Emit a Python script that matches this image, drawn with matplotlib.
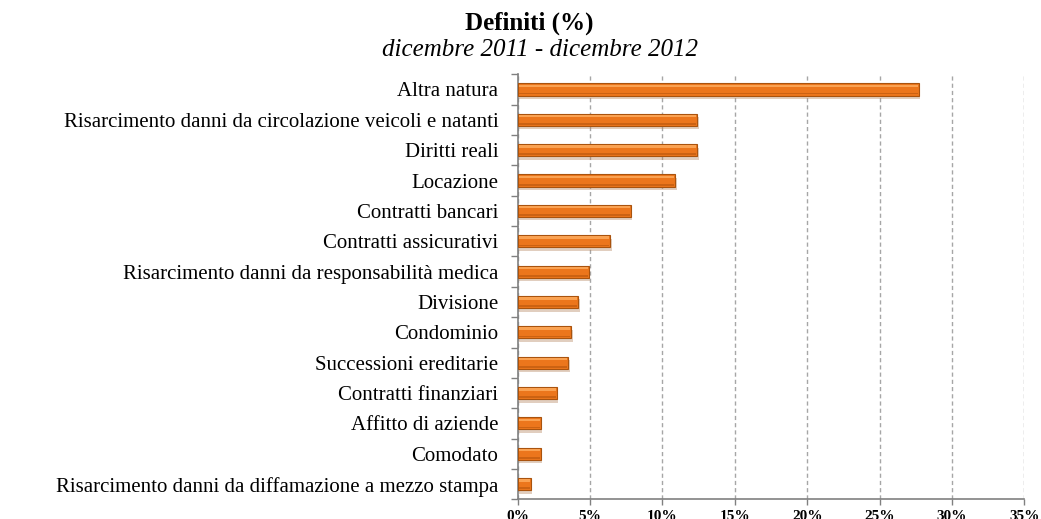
import matplotlib
matplotlib.use("Agg")
import matplotlib.pyplot as plt
import matplotlib.patheffects as pe

# Percent of closed proceedings by subject matter
categories = [
    "Altra natura",
    "Risarcimento danni da circolazione veicoli e natanti",
    "Diritti reali",
    "Locazione",
    "Contratti bancari",
    "Contratti assicurativi",
    "Risarcimento danni da responsabilità medica",
    "Divisione",
    "Condominio",
    "Successioni ereditarie",
    "Contratti finanziari",
    "Affitto di aziende",
    "Comodato",
    "Risarcimento danni da diffamazione a mezzo stampa",
]
values = [27.7, 12.4, 12.4, 10.9, 7.8, 6.4, 4.9, 4.2, 3.7, 3.5, 2.7, 1.6, 1.6, 0.9]

x_ticks = [0, 5, 10, 15, 20, 25, 30, 35]
x_tick_labels = [f"{t}%" for t in x_ticks]

title = "Definiti (%)"
subtitle = "dicembre 2011 - dicembre 2012"

plt.rcParams["font.family"] = ["Liberation Serif", "DejaVu Serif"]

W, H = 1041, 519
fig = plt.figure(figsize=(W / 100, H / 100), dpi=100)
ax = fig.add_axes([517.7 / W, 1 - 499.3 / H, (1024.3 - 517.7) / W, (499.3 - 74.3) / H])

pos = list(range(len(categories)))
bar_h = 0.40

# main bar body with a soft drop shadow
bars = ax.barh(pos, values, height=bar_h, color="#EC761C",
               edgecolor="#A9530E", linewidth=0.8, zorder=3)
for b in bars:
    b.set_path_effects([
        pe.SimplePatchShadow(offset=(1, -2.5), shadow_rgbFace="#B58560", alpha=0.4),
        pe.Normal(),
    ])

# bevel: light band along the top, darker band along the bottom
inner = [v - 0.14 for v in values]
ax.barh([p - bar_h * 0.30 for p in pos], inner, left=0.07,
        height=bar_h * 0.20, color="#FAA252", linewidth=0, zorder=4)
ax.barh([p + bar_h * 0.34 for p in pos], inner, left=0.07,
        height=bar_h * 0.14, color="#CC6212", linewidth=0, zorder=4)

ax.set_xlim(0, 35)
ax.set_ylim(len(categories) - 0.5, -0.5)

ax.set_xticks(x_ticks)
ax.set_xticklabels(x_tick_labels, fontweight="bold", fontsize=11)

# category separators as major ticks, names on minor ticks
ax.set_yticks([p - 0.5 for p in range(len(categories) + 1)])
ax.set_yticklabels([])
ax.set_yticks(pos, minor=True)
ax.set_yticklabels(categories, minor=True, fontsize=15)

ax.tick_params(axis="y", which="major", length=5, width=1, color="#808080", direction="out")
ax.tick_params(axis="y", which="minor", length=0, pad=14)
ax.tick_params(axis="x", length=4, width=1, color="#808080", pad=4)

ax.xaxis.grid(True, linestyle=(0, (3, 2.2)), color="#A6A6A6", linewidth=1)
ax.set_axisbelow(True)

for side in ("top", "right"):
    ax.spines[side].set_visible(False)
for side in ("left", "bottom"):
    ax.spines[side].set_color("#808080")
    ax.spines[side].set_linewidth(1.2)

fig.text(529 / W, 1 - 23 / H, title, ha="center", va="center",
         fontweight="bold", fontsize=18)
fig.text(540 / W, 1 - 50 / H, subtitle, ha="center", va="center",
         style="italic", fontsize=18)

fig.savefig("out.png", dpi=100)
